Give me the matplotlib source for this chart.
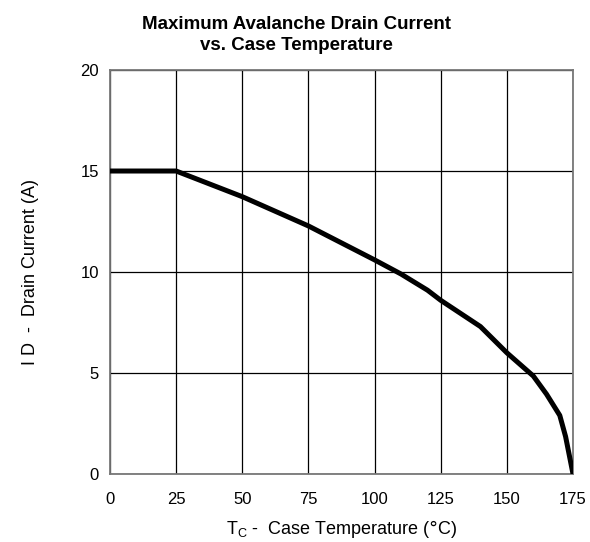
import matplotlib.pyplot as plt

plt.rcParams['font.family'] = ['Liberation Sans', 'DejaVu Sans']

# derating curve
temp = [0, 25, 50, 75, 100, 110, 120, 125, 140, 150, 160, 165, 170, 172.2, 173.7, 175]
current = [15, 15, 13.73, 12.28, 10.6, 9.9, 9.1, 8.6, 7.3, 6.0, 4.85, 3.95, 2.9, 1.85, 0.86, 0]

xticks = [0, 25, 50, 75, 100, 125, 150, 175]
yticks = [0, 5, 10, 15, 20]

fig = plt.figure(figsize=(5.9, 5.42), dpi=100)
ax = fig.add_axes([0.1864, 0.1255, 0.7848, 0.7453])

ax.plot(temp, current, color='black', lw=3.6, solid_capstyle='butt', zorder=3)

ax.set_xlim(0, 175)
ax.set_ylim(0, 20)
ax.set_xticks(xticks)
ax.set_yticks(yticks)
ax.tick_params(length=0, labelsize=12)
ax.tick_params(axis='x', pad=13)
ax.tick_params(axis='y', pad=8)
ax.grid(True, color='black', lw=0.9)
for s in ax.spines.values():
    s.set_color('#777777')
    s.set_linewidth(1.3)

fig.text(0.503, 0.97, 'Maximum Avalanche Drain Current\nvs. Case Temperature',
         ha='center', va='top', fontsize=13.5, fontweight='bold', linespacing=1.25)
ax.set_xlabel(r'T$_\mathregular{C}$ -  Case Temperature ($\degree$C)', fontsize=13, labelpad=8)
ax.set_ylabel('I D  -  Drain Current (A)', fontsize=13, labelpad=30)

fig.savefig('out.png', dpi=100)
